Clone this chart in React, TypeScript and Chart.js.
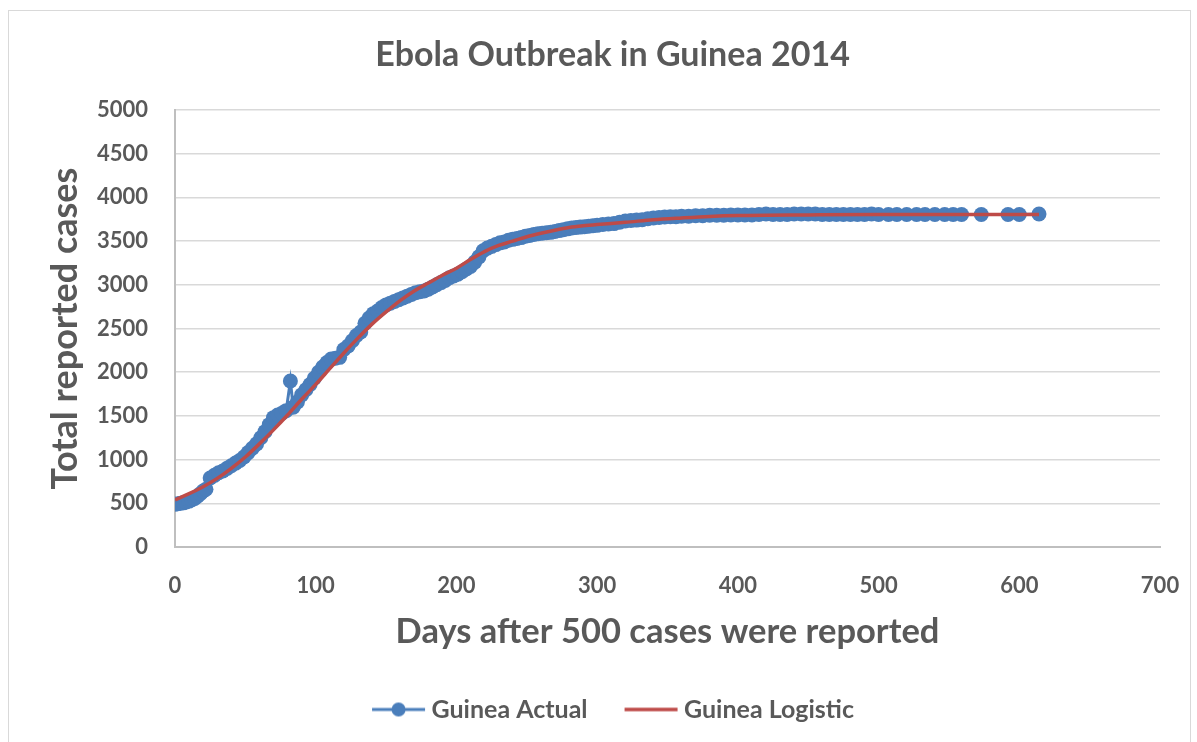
import React, { useEffect, useRef } from 'react';
import { Chart, registerables } from 'chart.js';

Chart.register(...registerables);

const TITLE = 'Ebola Outbreak in Guinea 2014';
const X_TITLE = 'Days after 500 cases were reported';
const Y_TITLE = 'Total reported cases';
const SERIES_NAMES = ['Guinea Actual', 'Guinea Logistic'];

const actualDays = [
  0, 2, 4, 6, 8, 10, 12, 14, 16, 18, 20, 22,
  25, 28, 31, 34, 37, 40, 43, 46, 49, 52, 55, 58,
  61, 64, 67, 70, 73, 76, 79, 82, 84,
  87, 90, 93, 96, 99, 102, 105, 108, 111, 114, 117, 120,
  123, 126, 129, 132, 135, 138, 141, 144, 147, 150, 153, 156,
  159, 162, 165, 168, 171, 174, 177, 180, 183, 186, 189, 192,
  195, 198, 201, 204, 207, 210, 213, 216, 219, 222, 225, 228,
  231, 234, 237, 240, 243, 246, 249, 252, 255, 258, 261, 264,
  267, 270, 273, 276, 279, 282, 285, 288, 291, 294, 297, 300,
  304, 308, 312, 316, 320, 324, 328, 332, 336, 340,
  344, 348, 352, 356, 360, 365, 370, 375, 380, 385, 390,
  395, 400, 405, 410, 415, 420, 425, 430, 435, 440,
  445, 450, 455, 460, 465, 470, 475, 480, 485, 490,
  495, 500, 507, 513, 520, 527, 533, 540, 547, 553, 559,
  573, 592, 600, 614,
];

const actualCases = [
  490, 495, 500, 505, 515, 525, 540, 555, 580, 610, 640, 660,
  790, 820, 850, 870, 900, 930, 960, 990, 1030, 1080, 1130, 1180,
  1250, 1320, 1400, 1480, 1510, 1530, 1560, 1900, 1600,
  1660, 1740, 1800, 1860, 1930, 2000, 2060, 2110, 2150, 2160, 2170, 2260,
  2300, 2360, 2420, 2460, 2560, 2620, 2670, 2700, 2740, 2770, 2790, 2810,
  2830, 2850, 2870, 2890, 2910, 2920, 2930, 2950, 2975, 3000, 3025, 3050,
  3080, 3100, 3120, 3150, 3180, 3210, 3260, 3320, 3390, 3420, 3440, 3460,
  3480, 3490, 3510, 3520, 3530, 3540, 3555, 3565, 3575, 3585, 3590, 3595,
  3600, 3610, 3620, 3630, 3640, 3650, 3655, 3660, 3665, 3670, 3675, 3680,
  3690, 3695, 3700, 3715, 3730, 3735, 3740, 3745, 3755, 3765,
  3770, 3775, 3780, 3780, 3785, 3785, 3790, 3790, 3795, 3795, 3795,
  3800, 3800, 3800, 3800, 3805, 3810, 3805, 3805, 3805, 3810,
  3810, 3810, 3810, 3805, 3805, 3805, 3805, 3805, 3805, 3805,
  3810, 3805, 3805, 3805, 3805, 3805, 3805, 3805, 3805, 3805, 3805,
  3805, 3805, 3805, 3810,
];

const logisticDays = [
  0, 10, 20, 30, 40, 50, 60, 70, 80, 90,
  100, 110, 120, 130, 140, 150, 160, 170, 180, 190,
  200, 210, 220, 230, 240, 250, 260, 270, 280, 290,
  300, 320, 340, 360, 380, 400, 450, 500, 550, 614,
];

const logisticCases = [
  540, 610, 690, 785, 900, 1030, 1180, 1340, 1510, 1690,
  1860, 2040, 2220, 2390, 2550, 2690, 2820, 2930, 3020, 3110,
  3190, 3290, 3380, 3450, 3500, 3550, 3590, 3625, 3655, 3675,
  3690, 3715, 3745, 3765, 3782, 3792, 3800, 3805, 3805, 3805,
];

const BLUE = '#4a7ebb';
const RED = '#be4b48';
const TEXT = '#595959';
const FONT = 'Lato, "Open Sans", sans-serif';

function legendIcon(color: string, withDot: boolean): HTMLCanvasElement {
  const c = document.createElement('canvas');
  c.width = 64;
  c.height = 20;
  const ctx = c.getContext('2d')!;
  ctx.strokeStyle = color;
  ctx.lineWidth = withDot ? 3 : 3.5;
  ctx.beginPath();
  ctx.moveTo(9, 10);
  ctx.lineTo(62, 10);
  ctx.stroke();
  if (withDot) {
    ctx.fillStyle = color;
    ctx.beginPath();
    ctx.arc(35.5, 10, 7, 0, Math.PI * 2);
    ctx.fill();
  }
  return c;
}

export default function App() {
  const ref = useRef<HTMLCanvasElement | null>(null);

  useEffect(() => {
    if (!ref.current) return;
    Chart.defaults.font.family = FONT;
    const icons = [legendIcon(BLUE, true), legendIcon(RED, false)];
    const chart = new Chart(ref.current, {
      type: 'line',
      data: {
        datasets: [
          {
            label: SERIES_NAMES[0],
            data: actualDays.map((d, i) => ({ x: d, y: actualCases[i] })),
            borderColor: BLUE,
            backgroundColor: BLUE,
            borderWidth: 3,
            pointRadius: 7.5,
            pointBorderWidth: 0,
            pointBackgroundColor: BLUE,
            tension: 0,
            order: 1,
          },
          {
            label: SERIES_NAMES[1],
            data: logisticDays.map((d, i) => ({ x: d, y: logisticCases[i] })),
            borderColor: RED,
            backgroundColor: RED,
            borderWidth: 3.5,
            pointRadius: 0,
            cubicInterpolationMode: 'monotone',
            order: 0,
          },
        ],
      },
      options: {
        animation: false,
        responsive: false,
        events: [],
        layout: { padding: { left: 56, right: 30, top: 0, bottom: 9 } },
        plugins: {
          title: {
            display: true,
            text: TITLE,
            color: TEXT,
            font: { size: 34, weight: 'bold', family: FONT },
            padding: { top: 23.6, bottom: 34.6 },
          },
          legend: {
            position: 'bottom',
            labels: {
              usePointStyle: true,
              pointStyleWidth: 48,
              padding: 36,
              color: TEXT,
              font: { size: 25, weight: 'bold', family: FONT },
              generateLabels: () =>
                SERIES_NAMES.map((name, i) => ({
                  text: name,
                  fillStyle: i === 0 ? BLUE : RED,
                  strokeStyle: i === 0 ? BLUE : RED,
                  lineWidth: 0,
                  pointStyle: icons[i] as any,
                  hidden: false,
                  datasetIndex: i,
                  fontColor: TEXT,
                })),
            },
          },
          tooltip: { enabled: false },
        },
        scales: {
          x: {
            type: 'linear',
            min: 0,
            max: 700,
            afterFit: (scale: any) => {
              scale.height = 114;
              scale.paddingRight = 10;
            },
            ticks: {
              stepSize: 100,
              color: TEXT,
              font: { size: 22, weight: 'bold', family: FONT },
              padding: 26,
              maxRotation: 0,
              callback: (v: any) => String(v),
            },
            grid: { display: false, drawTicks: false },
            border: { display: true, color: '#bfbfbf', width: 2 },
            title: {
              display: true,
              text: X_TITLE,
              color: TEXT,
              font: { size: 34.5, weight: 'bold', family: FONT },
              padding: { top: 0, bottom: 8.3 },
            },
          },
          y: {
            type: 'linear',
            min: 0,
            max: 5000,
            afterFit: (scale: any) => {
              scale.width = 110;
            },
            ticks: {
              stepSize: 500,
              color: TEXT,
              font: { size: 22, weight: 'bold', family: FONT },
              padding: 27,
              callback: (v: any) => String(v),
            },
            grid: { color: '#d9d9d9', lineWidth: 1.5, drawTicks: false },
            border: { display: true, color: '#bfbfbf', width: 2 },
            title: {
              display: true,
              text: Y_TITLE,
              color: TEXT,
              font: { size: 36, weight: 'bold', family: FONT },
              padding: { top: -21.6, bottom: 0 },
            },
          },
        },
      } as any,
    });
    return () => chart.destroy();
  }, []);

  return (
    <div
      style={{
        position: 'fixed',
        left: 8,
        top: 10,
        width: 1183,
        height: 760,
        boxSizing: 'border-box',
        border: '1px solid #d9d9d9',
        background: '#fff',
      }}
    >
      <canvas ref={ref} width={1181} height={730} style={{ display: 'block' }} />
    </div>
  );
}
